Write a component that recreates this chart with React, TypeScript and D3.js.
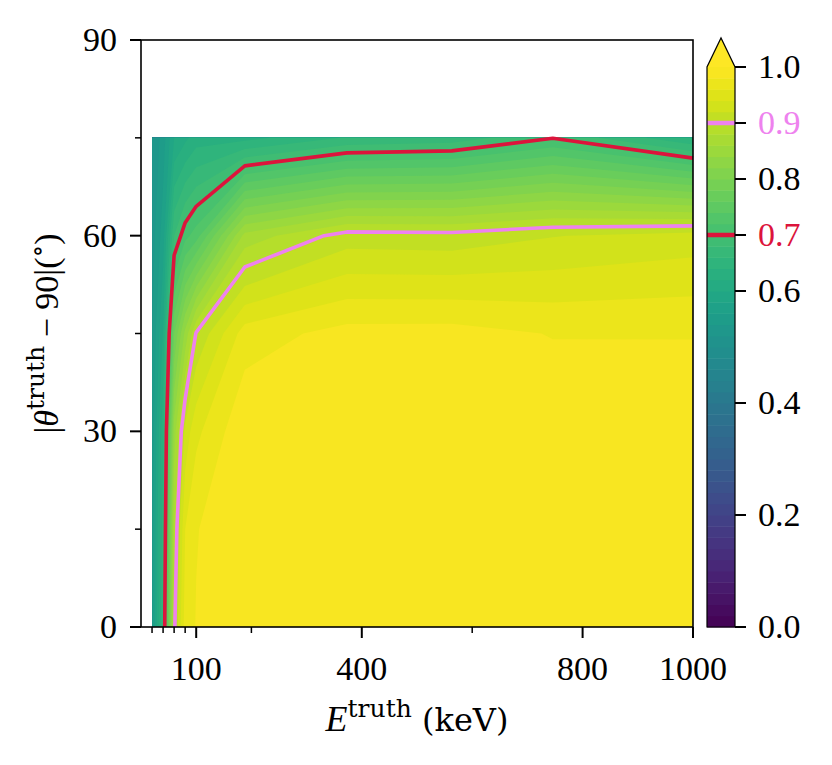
import React from 'react';
import * as d3 from 'd3';

// ---- data (efficiency grid) ----
const energies = [20, 40, 60, 80, 100, 188, 373, 563, 746, 1000];
const thetas = [0, 15, 30, 45, 60, 75];
const eff_theta0 = [0.55, 0.666, 0.895, 0.97, 0.981, 0.995, 0.996, 0.996, 0.995, 0.995];
const eff_theta15 = [0.55, 0.651, 0.88, 0.96, 0.979, 0.996, 0.997, 0.997, 0.996, 0.995];
const eff_theta30 = [0.545, 0.636, 0.85, 0.927, 0.955, 0.997, 0.997, 0.997, 0.996, 0.995];
const eff_theta45 = [0.54, 0.602, 0.78, 0.846, 0.902, 0.97, 0.9875, 0.988, 0.979, 0.979];
const eff_theta60 = [0.53, 0.57, 0.68, 0.713, 0.73, 0.867, 0.9095, 0.9077, 0.919, 0.929];
const eff_theta75 = [0.52, 0.55, 0.6, 0.615, 0.63, 0.633, 0.662, 0.668, 0.699, 0.64];
const effRows = [eff_theta0, eff_theta15, eff_theta30, eff_theta45, eff_theta60, eff_theta75];

const xTicksMajor = [100, 400, 800, 1000];
const xTicksMinor = [20, 40, 60, 80, 200, 600];
const yTicksMajor = [0, 30, 60, 90];
const yTicksMinor = [15, 45, 75];
const cbTicks = [0, 0.2, 0.4, 0.6, 0.7, 0.8, 0.9, 1.0];
const lineLevels = [0.7, 0.9];
const lineColors = ['#dc143c', '#ee82ee'];

const FONT = '"Liberation Serif", "DejaVu Serif", serif';
const WIDE = '"DejaVu Serif", "Liberation Serif", serif';
const FS = 34;

export default function App() {
  const L = 141, R = 693, T = 40, B = 627;
  const x = d3.scaleLinear().domain([0, 1000]).range([L, R]);
  const y = d3.scaleLinear().domain([0, 90]).range([B, T]);
  const nx = energies.length, ny = thetas.length;
  const gx = d3.scaleLinear().domain(energies.map((_, i) => i + 0.5)).range(energies).clamp(true);
  const gy = d3.scaleLinear().domain(thetas.map((_, j) => j + 0.5)).range(thetas).clamp(true);
  const proj = (p: number[]) => [x(gx(p[0])), y(gy(p[1]))];
  const values = effRows.flat();

  const levels = d3.range(0, 51).map((i) => +(i * 0.02).toFixed(2));
  const bands = d3.contours().size([nx, ny]).thresholds(levels)(values);
  const bandPaths = bands.map((b: any) => ({
    d: b.coordinates
      .map((poly: number[][][]) =>
        poly.map((ring) => 'M' + ring.map((p) => proj(p).map((v) => v.toFixed(2)).join(',')).join('L') + 'Z').join('')
      )
      .join(''),
    color: b.value >= 1 ? d3.interpolateViridis(1) : d3.interpolateViridis(b.value + 0.01),
  }));

  const onSame = (a: number[], b: number[]) =>
    (a[0] <= 0.5 && b[0] <= 0.5) ||
    (a[0] >= nx - 0.5 && b[0] >= nx - 0.5) ||
    (a[1] <= 0.5 && b[1] <= 0.5) ||
    (a[1] >= ny - 0.5 && b[1] >= ny - 0.5);

  const linePaths = lineLevels.map((lev) => {
    const c: any = d3.contours().size([nx, ny]).contour(values, lev);
    const segs: number[][][] = [];
    for (const poly of c.coordinates) {
      for (const ring0 of poly) {
        let ring = ring0.slice(0, -1);
        const n = ring.length;
        let start = 0;
        for (let k = 0; k < n; k++) {
          if (onSame(ring[k], ring[(k + 1) % n])) { start = k + 1; break; }
        }
        ring = ring.slice(start).concat(ring.slice(0, start));
        ring.push(ring[0]);
        let cur: number[][] = [];
        for (let k = 0; k < ring.length - 1; k++) {
          const a = ring[k], b = ring[k + 1];
          if (onSame(a, b)) {
            if (cur.length > 1) segs.push(cur);
            cur = [];
            continue;
          }
          if (cur.length === 0) cur.push(proj(a));
          cur.push(proj(b));
        }
        if (cur.length > 1) segs.push(cur);
      }
    }
    return segs.map((s) => 'M' + s.map((p) => p.map((v) => v.toFixed(2)).join(',')).join('L')).join('');
  });

  // colorbar
  const cbL = 707, cbR = 735, cbTop = 67, cbBot = 627, cbTip = 38;
  const cb = d3.scaleLinear().domain([0, 1]).range([cbBot, cbTop]);
  const cbBands = levels.slice(0, -1);

  return (
    <svg width={832} height={765} style={{ position: 'absolute', left: 0, top: 0, background: '#fff' }}
      fontFamily={FONT}>
      <rect x={0} y={0} width={832} height={765} fill="#fff" />
      {bandPaths.map((b, i) => (
        <path key={i} d={b.d} fill={b.color} stroke="none" />
      ))}
      {linePaths.map((d, i) => (
        <path key={'l' + i} d={d} fill="none" stroke={lineColors[i]} strokeWidth={3.6} strokeLinejoin="round" strokeLinecap="butt" />
      ))}
      <rect x={L} y={T} width={R - L} height={B - T} fill="none" stroke="#000" strokeWidth={1.6} />
      {/* x ticks */}
      {xTicksMajor.map((t) => (
        <g key={'xM' + t}>
          <line x1={x(t)} x2={x(t)} y1={B} y2={B + 11} stroke="#000" strokeWidth={2} />
          <text x={x(t)} y={B + 53} textAnchor="middle" fontSize={FS}>{t}</text>
        </g>
      ))}
      {xTicksMinor.map((t) => (
        <line key={'xm' + t} x1={x(t)} x2={x(t)} y1={B} y2={B + 6} stroke="#000" strokeWidth={1.5} />
      ))}
      {yTicksMajor.map((t) => (
        <g key={'yM' + t}>
          <line x1={L} x2={L - 11} y1={y(t)} y2={y(t)} stroke="#000" strokeWidth={2} />
          <text x={L - 24} y={y(t) + 11} textAnchor="end" fontSize={FS}>{t}</text>
        </g>
      ))}
      {yTicksMinor.map((t) => (
        <line key={'ym' + t} x1={L} x2={L - 6} y1={y(t)} y2={y(t)} stroke="#000" strokeWidth={1.5} />
      ))}
      {/* axis labels */}
      <text x={(L + R) / 2} y={731} textAnchor="middle" fontSize={FS}>
        <tspan fontStyle="italic" fontSize={36}>E</tspan>
        <tspan fontFamily={WIDE} fontSize={25} dy={-14}>truth</tspan>
        <tspan fontFamily={WIDE} fontSize={32} dy={14}>{'\u00a0(keV)'}</tspan>
      </text>
      <text transform={`translate(58,${(T + B) / 2}) rotate(-90)`} textAnchor="middle" fontSize={FS}>
        <tspan>|</tspan>
        <tspan fontStyle="italic">θ</tspan>
        <tspan fontFamily={WIDE} fontSize={25} dy={-14}>truth</tspan>
        <tspan dy={14}>{'\u00a0−\u00a090|('}</tspan>
        <tspan fontSize={26} dy={-12}>∘</tspan>
        <tspan dy={12}>)</tspan>
      </text>
      {/* colorbar */}
      {cbBands.map((t) => (
        <rect key={'cb' + t} x={cbL} y={cb(t + 0.02)} width={cbR - cbL} height={cb(t) - cb(t + 0.02) + 0.5}
          fill={d3.interpolateViridis(t + 0.01)} />
      ))}
      <path d={`M${cbL},${cbTop}L${(cbL + cbR) / 2},${cbTip}L${cbR},${cbTop}Z`} fill={d3.interpolateViridis(1)} />
      {lineLevels.map((lev, i) => (
        <line key={'cbl' + i} x1={cbL} x2={cbR} y1={cb(lev)} y2={cb(lev)} stroke={lineColors[i]} strokeWidth={4.5} />
      ))}
      <path d={`M${cbL},${cbBot}L${cbL},${cbTop}L${(cbL + cbR) / 2},${cbTip}L${cbR},${cbTop}L${cbR},${cbBot}Z`}
        fill="none" stroke="#000" strokeWidth={1.2} />
      {cbTicks.map((t) => {
        const col = t === 0.7 ? lineColors[0] : t === 0.9 ? lineColors[1] : '#000';
        return (
          <g key={'cbt' + t}>
            <line x1={cbR} x2={cbR + 11} y1={cb(t)} y2={cb(t)} stroke="#000" strokeWidth={2} />
            <text x={cbR + 23} y={cb(t) + 11} fontSize={FS} fill={col}>{t.toFixed(1)}</text>
          </g>
        );
      })}
    </svg>
  );
}
